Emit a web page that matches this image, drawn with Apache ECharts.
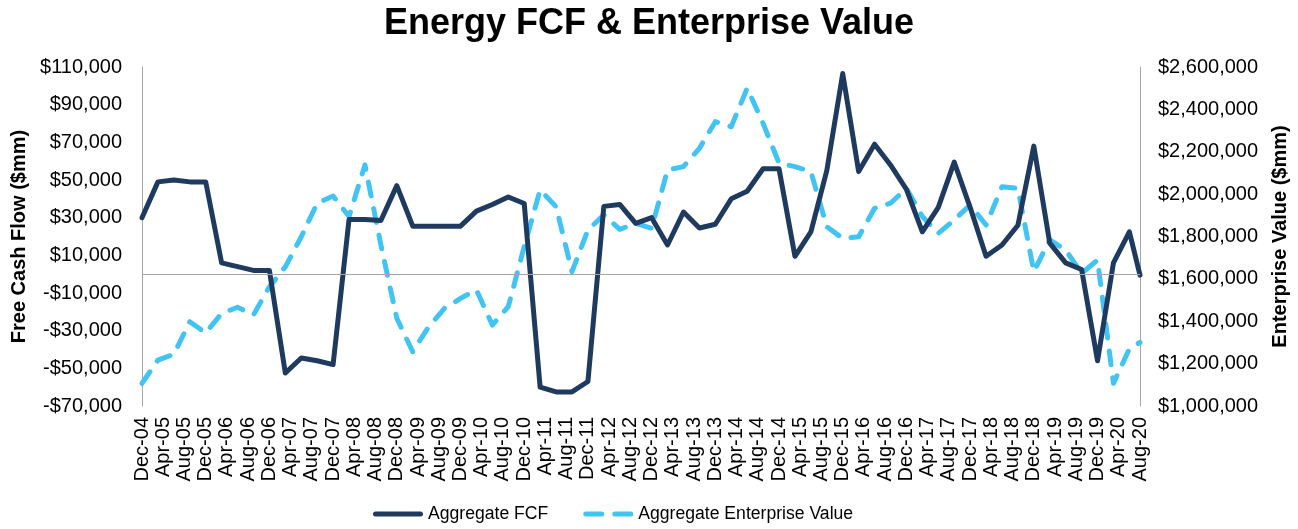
<!DOCTYPE html>
<html>
<head>
<meta charset="utf-8">
<script src="https://cdn.jsdelivr.net/npm/echarts@6/dist/echarts.min.js"></script>
<style>
  html, body { margin: 0; padding: 0; background: #fff; }
  #chart { width: 1298px; height: 529px; }
</style>
</head>
<body>
<div id="chart"></div>
<script>
// quarterly points, last one is Aug-20
const dates = [
  '2004-12',
  '2005-03', '2005-06', '2005-09', '2005-12',
  '2006-03', '2006-06', '2006-09', '2006-12',
  '2007-03', '2007-06', '2007-09', '2007-12',
  '2008-03', '2008-06', '2008-09', '2008-12',
  '2009-03', '2009-06', '2009-09', '2009-12',
  '2010-03', '2010-06', '2010-09', '2010-12',
  '2011-03', '2011-06', '2011-09', '2011-12',
  '2012-03', '2012-06', '2012-09', '2012-12',
  '2013-03', '2013-06', '2013-09', '2013-12',
  '2014-03', '2014-06', '2014-09', '2014-12',
  '2015-03', '2015-06', '2015-09', '2015-12',
  '2016-03', '2016-06', '2016-09', '2016-12',
  '2017-03', '2017-06', '2017-09', '2017-12',
  '2018-03', '2018-06', '2018-09', '2018-12',
  '2019-03', '2019-06', '2019-09', '2019-12',
  '2020-03', '2020-06', '2020-08'
];

const fcf = [
  30000,
  49000, 50000, 49000, 49000,
  6000, 4000, 2000, 2000,
  -52500, -44500, -46000, -48000,
  29000, 29000, 28500, 47000,
  25500, 25500, 25500, 25500,
  33500, 37000, 41000, 37500,
  -60000, -62500, -62500, -57000,
  36000, 37000, 27000, 30000,
  15500, 33000, 24500, 26500,
  40000, 44000, 56000, 56000,
  9500, 22500, 55000, 106500,
  54500, 69000, 58000, 45000,
  22500, 35500, 59500, 35500,
  9500, 15500, 26000, 68000,
  16500, 6000, 2500, -46000,
  6000, 22500, -500
];

const ev = [
  1107000,
  1217000, 1244000, 1398000, 1345000,
  1437000, 1466000, 1430000, 1563000,
  1657000, 1799000, 1957000, 1991000,
  1894000, 2138000, 1760000, 1414000,
  1256000, 1374000, 1461000, 1508000,
  1548000, 1382000, 1469000, 1752000,
  2020000, 1941000, 1634000, 1831000,
  1902000, 1834000, 1862000, 1839000,
  2114000, 2130000, 2216000, 2342000,
  2318000, 2500000, 2334000, 2146000,
  2130000, 2106000, 1846000, 1791000,
  1799000, 1933000, 1957000, 2027000,
  1894000, 1815000, 1878000, 1949000,
  1854000, 2035000, 2027000, 1634000,
  1784000, 1736000, 1626000, 1689000,
  1107000, 1270000, 1300000
];

const fcfTicks = [-70000, -50000, -30000, -10000, 10000, 30000, 50000, 70000, 90000, 110000];
const monthNames = ['Jan','Feb','Mar','Apr','May','Jun','Jul','Aug','Sep','Oct','Nov','Dec'];

// months counted from Dec-04
function monthIndex(d) {
  const [y, m] = d.split('-').map(Number);
  return (y - 2004) * 12 + m - 12;
}
function monthLabel(i) {
  const t = 11 + i;
  const yr = 2004 + Math.floor(t / 12);
  return monthNames[t % 12] + '-' + String(yr % 100).padStart(2, '0');
}
function money(v) {
  const s = '$' + Math.abs(v).toLocaleString('en-US');
  return v < 0 ? '-' + s : s;
}

const fcfData = dates.map((d, i) => [monthIndex(d), fcf[i]]);
const evData = dates.map((d, i) => [monthIndex(d), ev[i]]);

const navy = '#1f3a5f';
const sky = '#41c4f4';
const solidIcon = 'path://M2.5,0H47.5A2.5,2.5,0,0,1,47.5,5H2.5A2.5,2.5,0,0,1,2.5,0Z';
const dashIcon = 'path://M2.5,0H18.5A2.5,2.5,0,0,1,18.5,5H2.5A2.5,2.5,0,0,1,2.5,0Z' +
  'M31.5,0H47.5A2.5,2.5,0,0,1,47.5,5H31.5A2.5,2.5,0,0,1,31.5,0Z';

const font = 'Arial, "Liberation Sans", sans-serif';
const chart = echarts.init(document.getElementById('chart'));
chart.setOption({
  animation: false,
  textStyle: { fontFamily: font },
  title: {
    text: 'Energy FCF & Enterprise Value',
    left: 'center',
    top: 1,
    textStyle: { fontSize: 36, fontWeight: 'bold', color: '#000', fontFamily: font }
  },
  grid: { left: 142, right: 158, top: 67, bottom: 123, outerBoundsMode: 'none' },
  legend: {
    top: 500,
    left: 368,
    itemWidth: 50,
    itemHeight: 5,
    itemGap: 35,
    itemStyle: { borderWidth: 0 },
    textStyle: { fontSize: 17.6, color: '#000', fontFamily: font },
    data: [
      { name: 'Aggregate FCF', icon: solidIcon, itemStyle: { color: navy } },
      { name: 'Aggregate Enterprise Value', icon: dashIcon, itemStyle: { color: sky } }
    ]
  },
  xAxis: {
    type: 'value',
    min: 0,
    max: 188,
    interval: 4,
    axisLine: { show: false },
    axisTick: { show: false },
    splitLine: { show: false },
    axisLabel: {
      rotate: 90,
      margin: 11,
      fontSize: 20,
      color: '#000',
      formatter: v => monthLabel(v)
    }
  },
  yAxis: [
    {
      type: 'value',
      min: -70000,
      max: 110000,
      name: 'Free Cash Flow ($mm)',
      nameLocation: 'middle',
      nameGap: 110,
      nameTextStyle: { fontSize: 20, fontWeight: 'bold', color: '#000' },
      axisLine: { show: true, lineStyle: { color: '#a6a6a6', width: 1 } },
      axisTick: { show: false },
      splitLine: { show: false },
      axisLabel: {
        customValues: fcfTicks,
        margin: 20,
        fontSize: 20,
        color: '#000',
        formatter: v => money(v)
      }
    },
    {
      type: 'value',
      min: 1000000,
      max: 2600000,
      interval: 200000,
      position: 'right',
      name: 'Enterprise Value ($mm)',
      nameLocation: 'middle',
      nameGap: 130,
      nameTextStyle: { fontSize: 20, fontWeight: 'bold', color: '#000' },
      axisLine: { show: true, lineStyle: { color: '#a6a6a6', width: 1 } },
      axisTick: { show: false },
      splitLine: { show: false },
      axisLabel: {
        margin: 18,
        fontSize: 20,
        color: '#000',
        formatter: v => money(v)
      }
    }
  ],
  series: [
    {
      name: 'Aggregate FCF',
      type: 'line',
      yAxisIndex: 0,
      data: fcfData,
      symbol: 'none',
      z: 3,
      lineStyle: { color: navy, width: 5, join: 'round', cap: 'round' },
      itemStyle: { color: navy },
      markLine: {
        silent: true,
        symbol: 'none',
        label: { show: false },
        lineStyle: { color: '#a6a6a6', width: 1, type: 'solid' },
        data: [{ yAxis: 0 }]
      }
    },
    {
      name: 'Aggregate Enterprise Value',
      type: 'line',
      yAxisIndex: 1,
      data: evData,
      symbol: 'none',
      z: 2,
      lineStyle: { color: sky, width: 5, type: [14, 13], cap: 'round', join: 'round' },
      itemStyle: { color: sky }
    }
  ]
});
</script>
</body>
</html>
